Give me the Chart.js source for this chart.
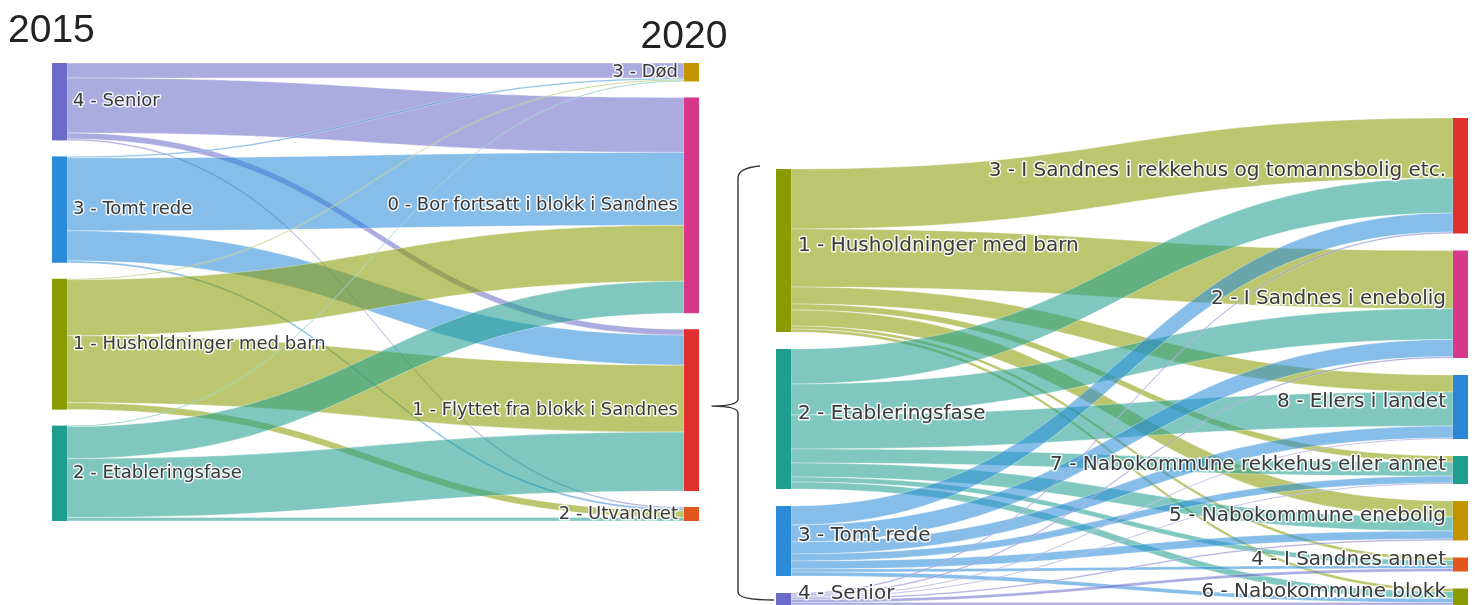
<!DOCTYPE html>
<html>
<head>
<meta charset="utf-8">
<script src="https://cdn.jsdelivr.net/npm/chart.js@4/dist/chart.umd.min.js"></script>
<style>
  html, body { margin: 0; padding: 0; background: #fff; }
  #wrap { position: relative; width: 1475px; height: 605px; overflow: hidden; }
  #wrap canvas { position: absolute; left: 0; top: 0; }
</style>
</head>
<body>
<div id="wrap">
  <canvas id="left" width="1475" height="605"></canvas>
  <canvas id="right" width="1475" height="605"></canvas>
</div>
<script>
// 2015 -> 2020: households living in an apartment block in Sandnes in 2015
const sources2015 = ['4 - Senior', '3 - Tomt rede', '1 - Husholdninger med barn', '2 - Etableringsfase'];
const targets2020 = ['3 - Død', '0 - Bor fortsatt i blokk i Sandnes', '1 - Flyttet fra blokk i Sandnes', '2 - Utvandret'];
// one array per 2015 group, values in the order of targets2020
const senior2015 = [15, 55, 6, 1.5];
const tomtRede2015 = [1.5, 73, 30, 2];
const husholdninger2015 = [1, 56, 67, 7];
const etablering2015 = [1, 32, 59, 3.5];

// the ones that moved out of the block: where they went
const movedSources = ['1 - Husholdninger med barn', '2 - Etableringsfase', '3 - Tomt rede', '4 - Senior'];
const movedTargets = ['3 - I Sandnes i rekkehus og tomannsbolig etc.', '2 - I Sandnes i enebolig', '8 - Ellers i landet',
  '7 - Nabokommune rekkehus eller annet', '5 - Nabokommune enebolig', '4 - I Sandnes annet', '6 - Nabokommune blokk'];
// values in the order of movedTargets
const movedHusholdninger = [60, 58, 17, 6, 16, 3, 3];
const movedEtablering = [35, 31, 34, 14, 14, 5, 7];
const movedTomtRede = [19, 17, 12, 7, 8, 3, 4];
const movedSenior = [1.5, 1.5, 1, 1, 1.5, 3, 2.5];

const colors2015 = ['#6b6bc9', '#2b8bd8', '#8a9a00', '#1f9e8f'];
const colors2020 = ['#c49400', '#d6388a', '#e0302f', '#e0561c'];
const movedSourceColors = ['#8a9a00', '#1f9e8f', '#2b8bd8', '#6b6bc9'];
const movedTargetColors = ['#e0302f', '#d6388a', '#2a86d6', '#1f9e8f', '#c49400', '#e0561c', '#8a9a00'];

const sum = arr => arr.reduce((a, b) => a + b, 0);

// two-column sankey layout, in value units (y grows downwards)
function layout(sourceLabels, targetLabels, rows, pad) {
  const sources = sourceLabels.map((label, i) => ({label, value: sum(rows[i]), out: []}));
  const targets = targetLabels.map((label, j) => ({label, value: sum(rows.map(r => r[j])), inc: []}));
  const cols = [sources, targets];
  const totals = cols.map(c => sum(c.map(n => n.value)) + (c.length - 1) * pad);
  const extent = Math.max(...totals);
  cols.forEach((c, k) => {
    let y = extent - totals[k]; // columns sit on the bottom
    c.forEach(n => { n.y0 = y; n.y1 = y + n.value; y = n.y1 + pad; });
  });
  const links = [];
  rows.forEach((r, i) => r.forEach((v, j) => {
    if (v > 0) {
      const l = {s: i, t: j, value: v};
      links.push(l);
      sources[i].out.push(l);
      targets[j].inc.push(l);
    }
  }));
  sources.forEach(n => {
    let y = n.y0;
    n.out.sort((a, b) => targets[a.t].y0 - targets[b.t].y0).forEach(l => { l.sy0 = y; y += l.value; l.sy1 = y; });
  });
  targets.forEach(n => {
    let y = n.y0;
    n.inc.sort((a, b) => sources[a.s].y0 - sources[b.s].y0).forEach(l => { l.ty0 = y; y += l.value; l.ty1 = y; });
  });
  return {sources, targets, links, extent};
}

function rgba(hex, a) {
  const n = parseInt(hex.slice(1), 16);
  return `rgba(${n >> 16},${(n >> 8) & 255},${n & 255},${a})`;
}

function sankeyPlugin(id, L, cfg) {
  return {
    id,
    afterDatasetsDraw(chart) {
      const {ctx} = chart;
      const xs = chart.scales.x, ys = chart.scales.y;
      const w = cfg.nodeWidth;
      const x0 = xs.getPixelForValue(0) + w;
      const x1 = xs.getPixelForValue(1) - w;
      const xm = (x0 + x1) / 2;
      ctx.save();
      // links
      L.links.forEach(l => {
        const a = ys.getPixelForValue(l.sy0), b = ys.getPixelForValue(l.sy1);
        const c = ys.getPixelForValue(l.ty0), d = ys.getPixelForValue(l.ty1);
        ctx.beginPath();
        ctx.moveTo(x0, a);
        ctx.bezierCurveTo(xm, a, xm, c, x1, c);
        ctx.lineTo(x1, d);
        ctx.bezierCurveTo(xm, d, xm, b, x0, b);
        ctx.closePath();
        ctx.fillStyle = rgba(cfg.sourceColors[l.s], 0.57);
        ctx.fill();
        ctx.strokeStyle = 'rgba(255,255,255,0.55)';
        ctx.lineWidth = 0.6;
        ctx.stroke();
      });
      // nodes
      const rect = (n, x, color) => {
        const t = ys.getPixelForValue(n.y0), b = ys.getPixelForValue(n.y1);
        ctx.fillStyle = color;
        ctx.fillRect(x, t, w, b - t);
      };
      L.sources.forEach((n, i) => rect(n, x0 - w, cfg.sourceColors[i]));
      L.targets.forEach((n, j) => rect(n, x1, cfg.targetColors[j]));
      // labels
      ctx.font = cfg.font;
      ctx.textBaseline = 'middle';
      ctx.lineJoin = 'round';
      const label = (text, x, y, align) => {
        ctx.textAlign = align;
        ctx.strokeStyle = 'rgba(255,255,255,0.85)';
        ctx.lineWidth = 3;
        ctx.strokeText(text, x, y);
        ctx.fillStyle = '#3a3a3a';
        ctx.fillText(text, x, y);
      };
      const mid = n => ys.getPixelForValue((n.y0 + n.y1) / 2) + cfg.labelShift;
      L.sources.forEach(n => label(n.label, x0 + cfg.labelGap, mid(n), 'left'));
      L.targets.forEach(n => label(n.label, x1 - cfg.labelGap, mid(n), 'right'));
      if (cfg.extra) cfg.extra(chart, ctx);
      ctx.restore();
    }
  };
}

function makeChart(el, L, padding, cfg) {
  return new Chart(el, {
    type: 'scatter',
    data: {datasets: []},
    options: {
      responsive: false,
      animation: false,
      events: [],
      layout: {padding},
      scales: {
        x: {type: 'linear', min: 0, max: 1, display: false},
        y: {type: 'linear', min: 0, max: L.extent, reverse: true, display: false}
      },
      plugins: {legend: {display: false}, tooltip: {enabled: false}}
    },
    plugins: [sankeyPlugin(el.id + 'Sankey', L, cfg)]
  });
}

const left = layout(sources2015, targets2020, [senior2015, tomtRede2015, husholdninger2015, etablering2015], 16);
const right = layout(movedSources, movedTargets, [movedHusholdninger, movedEtablering, movedTomtRede, movedSenior], 17);

const leftChart = makeChart(document.getElementById('left'), left,
  {left: 52, right: 776, top: 63, bottom: 84},
  {
    nodeWidth: 15, labelGap: 6, labelShift: 0,
    font: '18px "DejaVu Sans", Verdana, sans-serif',
    sourceColors: colors2015, targetColors: colors2020,
    extra(chart, ctx) {
      const a = chart.chartArea;
      ctx.font = '39px "Liberation Sans", Arial, sans-serif';
      ctx.fillStyle = '#222';
      ctx.textBaseline = 'alphabetic';
      ctx.textAlign = 'left';
      ctx.fillText('2015', a.left - 44, a.top - 21);
      ctx.textAlign = 'center';
      ctx.fillText('2020', a.right - 15, a.top - 15);
    }
  });

makeChart(document.getElementById('right'), right,
  {left: 776, right: 7, top: 118, bottom: 0},
  {
    nodeWidth: 15, labelGap: 7, labelShift: -5,
    font: '20px "DejaVu Sans", Verdana, sans-serif',
    sourceColors: movedSourceColors, targetColors: movedTargetColors,
    extra(chart, ctx) {
      // curly brace: the moved households in 2015 are broken down on the right
      const ys = chart.scales.y;
      const moved = left.targets[2];
      const tipY = leftChart.scales.y.getPixelForValue((moved.y0 + moved.y1) / 2) - 4;
      const tipX = leftChart.chartArea.right + 13;
      const top = ys.getPixelForValue(right.sources[0].y0) - 1;
      const bottom = ys.getPixelForValue(right.extent) - 5;
      const x = chart.chartArea.left - 38;
      const hook = x + 22;
      ctx.beginPath();
      ctx.moveTo(hook, top - 2);
      ctx.quadraticCurveTo(x, top, x, top + 10);
      ctx.lineTo(x, tipY - 7);
      ctx.quadraticCurveTo(x, tipY, tipX, tipY);
      ctx.quadraticCurveTo(x, tipY, x, tipY + 7);
      ctx.lineTo(x, bottom - 8);
      ctx.quadraticCurveTo(x, bottom, hook + 14, bottom);
      ctx.strokeStyle = '#333';
      ctx.lineWidth = 1.4;
      ctx.stroke();
    }
  });
</script>
</body>
</html>
